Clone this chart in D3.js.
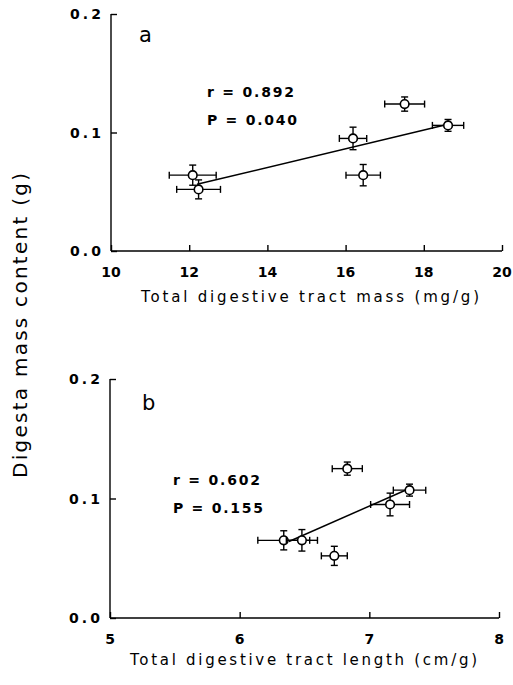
<!DOCTYPE html>
<html>
<head>
<meta charset="utf-8">
<script src="https://cdn.jsdelivr.net/npm/d3@7"></script>
<style>
  body { margin: 0; background: #fff; }
  svg { display: block; font-family: "DejaVu Sans", "Liberation Sans", Arial, sans-serif; }
  .axis line, .axis path { stroke: #000; stroke-width: 1.4; fill: none; }
</style>
</head>
<body>
<div id="chart"></div>
<script>
// panel a: total digestive tract mass (mg/g)
var massX = [12.09, 12.24, 16.19, 16.45, 17.51, 18.62];
var massXerr = [0.60, 0.56, 0.35, 0.44, 0.51, 0.40];
var digestaA = [0.064, 0.052, 0.095, 0.064, 0.124, 0.106];
var digestaAerr = [0.0085, 0.008, 0.0095, 0.009, 0.006, 0.005];
var fitAx = [12.2, 18.62];
var fitAy = [0.0563, 0.107];

// panel b: total digestive tract length (cm/g)
var lengthX = [6.34, 6.48, 6.73, 6.83, 7.16, 7.31];
var lengthXerr = [0.20, 0.12, 0.10, 0.116, 0.15, 0.125];
var digestaB = [0.065, 0.065, 0.052, 0.125, 0.095, 0.107];
var digestaBerr = [0.008, 0.009, 0.008, 0.0055, 0.0095, 0.005];
var fitBx = [6.38, 7.30];
var fitBy = [0.064, 0.108];

var yTicks = [0.0, 0.1, 0.2];
var massTicks = [10, 12, 14, 16, 18, 20];
var lengthTicks = [5, 6, 7, 8];

var width = 513, height = 685;

var svg = d3.select('#chart').append('svg')
    .attr('width', width)
    .attr('height', height);

function drawPanel(p) {
    var x = d3.scaleLinear().domain(p.xDomain).range([p.left, p.right]);
    var y = d3.scaleLinear().domain([0, 0.2]).range([p.bottom, p.top]);
    var g = svg.append('g');

    // axes - ticks point inward
    var xAxis = g.append('g').attr('class', 'axis')
        .attr('transform', 'translate(0,' + p.bottom + ')')
        .call(d3.axisBottom(x).tickValues(p.xTicks).tickSize(-6).tickSizeOuter(0).tickFormat(''));
    xAxis.select('.domain').attr('d', 'M' + p.left + ',0H' + p.right);

    var yAxis = g.append('g').attr('class', 'axis')
        .attr('transform', 'translate(' + p.left + ',0)')
        .call(d3.axisLeft(y).tickValues(yTicks).tickSize(-6).tickSizeOuter(0).tickFormat(''));
    yAxis.select('.domain').attr('d', 'M0,' + p.top + 'V' + p.bottom);

    // tick labels
    g.selectAll('.xlab').data(p.xTicks).enter().append('text')
        .attr('x', function(d) { return x(d); })
        .attr('y', p.bottom + 26)
        .attr('text-anchor', 'middle')
        .style('font-size', '14px').style('font-weight', 'bold')
        .text(function(d) { return d; });

    g.selectAll('.ylab').data(yTicks).enter().append('text')
        .attr('x', p.left - 10)
        .attr('y', function(d) { return y(d) + 5; })
        .attr('text-anchor', 'end')
        .attr('textLength', 31)
        .attr('lengthAdjust', 'spacing')
        .style('font-size', '14px').style('font-weight', 'bold')
        .text(function(d) { return d.toFixed(1); });

    // axis title
    g.append('text')
        .attr('x', p.titleX)
        .attr('y', p.titleY)
        .attr('textLength', p.titleLen)
        .attr('lengthAdjust', 'spacing')
        .style('font-size', '15px')
        .text(p.title);

    // panel letter
    g.append('text')
        .attr('x', p.letterX).attr('y', p.letterY)
        .style('font-size', '21px')
        .text(p.letter);

    // stats
    g.append('text')
        .attr('x', p.statX).attr('y', p.statY)
        .attr('textLength', 87).attr('lengthAdjust', 'spacing')
        .style('font-size', '14px').style('font-weight', 'bold')
        .text('r = ' + p.r);
    g.append('text')
        .attr('x', p.statX).attr('y', p.statY + 28)
        .attr('textLength', 90).attr('lengthAdjust', 'spacing')
        .style('font-size', '14px').style('font-weight', 'bold')
        .text('P = ' + p.P);

    // regression line
    var line = d3.line()
        .x(function(d) { return x(d[0]); })
        .y(function(d) { return y(d[1]); });
    g.append('path')
        .attr('d', line(d3.zip(p.fitX, p.fitY)))
        .style('stroke', '#000').style('stroke-width', 1.5).style('fill', 'none');

    var pts = p.xs.map(function(d, i) {
        return { x: d, xe: p.xerr[i], y: p.ys[i], ye: p.yerr[i] };
    });

    var cap = 3.5;
    var pt = g.selectAll('.pt').data(pts).enter().append('g');

    // horizontal error bars
    pt.append('line')
        .attr('x1', function(d) { return x(d.x - d.xe); })
        .attr('x2', function(d) { return x(d.x + d.xe); })
        .attr('y1', function(d) { return y(d.y); })
        .attr('y2', function(d) { return y(d.y); });
    pt.append('line')
        .attr('x1', function(d) { return x(d.x - d.xe); })
        .attr('x2', function(d) { return x(d.x - d.xe); })
        .attr('y1', function(d) { return y(d.y) - cap; })
        .attr('y2', function(d) { return y(d.y) + cap; });
    pt.append('line')
        .attr('x1', function(d) { return x(d.x + d.xe); })
        .attr('x2', function(d) { return x(d.x + d.xe); })
        .attr('y1', function(d) { return y(d.y) - cap; })
        .attr('y2', function(d) { return y(d.y) + cap; });

    // vertical error bars
    pt.append('line')
        .attr('x1', function(d) { return x(d.x); })
        .attr('x2', function(d) { return x(d.x); })
        .attr('y1', function(d) { return y(d.y - d.ye); })
        .attr('y2', function(d) { return y(d.y + d.ye); });
    pt.append('line')
        .attr('x1', function(d) { return x(d.x) - cap; })
        .attr('x2', function(d) { return x(d.x) + cap; })
        .attr('y1', function(d) { return y(d.y - d.ye); })
        .attr('y2', function(d) { return y(d.y - d.ye); });
    pt.append('line')
        .attr('x1', function(d) { return x(d.x) - cap; })
        .attr('x2', function(d) { return x(d.x) + cap; })
        .attr('y1', function(d) { return y(d.y + d.ye); })
        .attr('y2', function(d) { return y(d.y + d.ye); });

    pt.selectAll('line').style('stroke', '#000').style('stroke-width', 1.4);

    pt.append('circle')
        .attr('cx', function(d) { return x(d.x); })
        .attr('cy', function(d) { return y(d.y); })
        .attr('r', 4.3)
        .style('fill', '#fff').style('stroke', '#000').style('stroke-width', 1.6);
}

drawPanel({
    xDomain: [10, 20], xTicks: massTicks,
    left: 111, right: 502, top: 14, bottom: 251,
    xs: massX, xerr: massXerr, ys: digestaA, yerr: digestaAerr,
    fitX: fitAx, fitY: fitAy,
    title: 'Total digestive tract mass (mg/g)', titleX: 141, titleY: 302, titleLen: 338,
    letter: 'a', letterX: 139, letterY: 42,
    r: '0.892', P: '0.040', statX: 207, statY: 97
});

drawPanel({
    xDomain: [5, 8], xTicks: lengthTicks,
    left: 110, right: 499, top: 379, bottom: 618,
    xs: lengthX, xerr: lengthXerr, ys: digestaB, yerr: digestaBerr,
    fitX: fitBx, fitY: fitBy,
    title: 'Total digestive tract length (cm/g)', titleX: 130, titleY: 665, titleLen: 347,
    letter: 'b', letterX: 142, letterY: 410,
    r: '0.602', P: '0.155', statX: 173, statY: 485
});

// shared y title
svg.append('text')
    .attr('transform', 'translate(27,478) rotate(-90)')
    .attr('textLength', 305)
    .attr('lengthAdjust', 'spacing')
    .style('font-size', '20px')
    .text('Digesta mass content (g)');
</script>
</body>
</html>
